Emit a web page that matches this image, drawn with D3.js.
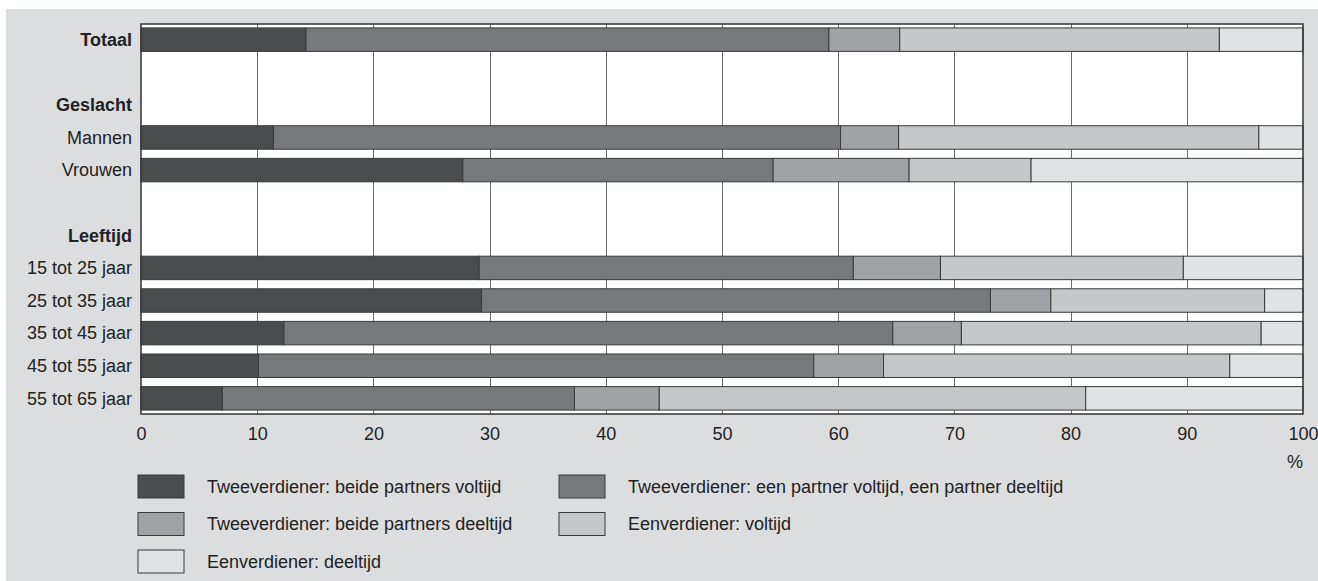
<!DOCTYPE html>
<html>
<head>
<meta charset="utf-8">
<script src="https://cdn.jsdelivr.net/npm/d3@7"></script>
<style>
  html, body { margin: 0; padding: 0; background: #ffffff; }
  svg { display: block; font-family: "Liberation Sans", Arial, sans-serif; }
</style>
</head>
<body>
<svg id="chart" width="1318" height="581"></svg>
<script>
// ---- data ----
const categories = ["Totaal", "Mannen", "Vrouwen", "15 tot 25 jaar", "25 tot 35 jaar", "35 tot 45 jaar", "45 tot 55 jaar", "55 tot 65 jaar"];
const headers = ["Geslacht", "Leeftijd"];
const rowOrder = ["Totaal", "_gap1", "Geslacht", "Mannen", "Vrouwen", "_gap2", "Leeftijd", "15 tot 25 jaar", "25 tot 35 jaar", "35 tot 45 jaar", "45 tot 55 jaar", "55 tot 65 jaar"];
const seriesNames = [
  "Tweeverdiener: beide partners voltijd",
  "Tweeverdiener: een partner voltijd, een partner deeltijd",
  "Tweeverdiener: beide partners deeltijd",
  "Eenverdiener: voltijd",
  "Eenverdiener: deeltijd"
];
const beideVoltijd   = [14.2, 11.4, 27.7, 29.1, 29.3, 12.3, 10.1, 7.0];
const eenDeeltijd    = [45.0, 48.8, 26.7, 32.2, 43.8, 52.4, 47.8, 30.3];
const beideDeeltijd  = [6.1, 5.0, 11.7, 7.5, 5.2, 5.9, 6.0, 7.3];
const eenVoltijd     = [27.5, 31.0, 10.5, 20.9, 18.4, 25.8, 29.8, 36.7];
const eenverdDeel    = [7.2, 3.8, 23.4, 10.3, 3.3, 3.6, 6.3, 18.7];
const xTicks = [0, 10, 20, 30, 40, 50, 60, 70, 80, 90, 100];
const unitLabel = "%";
const colors = ["#4b4c4e", "#77787b", "#a1a2a5", "#c6c7c9", "#e1e2e3"];

const seriesValues = [beideVoltijd, eenDeeltijd, beideDeeltijd, eenVoltijd, eenverdDeel];
const keys = seriesNames;
const table = categories.map((c, i) => {
  const o = { cat: c };
  keys.forEach((k, j) => o[k] = seriesValues[j][i]);
  return o;
});

// ---- layout ----
const svg = d3.select("#chart");
const W = 1318, H = 581;
const plot = { left: 141, right: 1303, top: 24, bottom: 414 };

svg.append("rect").attr("x", 6).attr("y", 9).attr("width", W - 6).attr("height", H - 9).attr("fill", "#dcdddf");

const x = d3.scaleLinear().domain([0, 100]).range([plot.left, plot.right]);
const y = d3.scaleBand().domain(rowOrder).range([plot.top, plot.bottom]).paddingInner(0.28).paddingOuter(0.12);

// plot background
svg.append("rect").attr("x", plot.left).attr("y", plot.top)
  .attr("width", plot.right - plot.left).attr("height", plot.bottom - plot.top)
  .attr("fill", "#ffffff");

// gridlines
svg.append("g").selectAll("line").data(xTicks.filter(t => t > 0 && t < 100)).join("line")
  .attr("x1", d => Math.round(x(d)) + 0.5).attr("x2", d => Math.round(x(d)) + 0.5)
  .attr("y1", plot.top).attr("y2", plot.bottom)
  .attr("stroke", "#6e6e6e").attr("stroke-width", 1);

// bars
const stacked = d3.stack().keys(keys)(table);
svg.append("g").selectAll("g").data(stacked).join("g")
  .attr("fill", (d, i) => colors[i])
  .selectAll("rect").data(d => d).join("rect")
  .attr("x", d => x(d[0]))
  .attr("width", d => x(d[1]) - x(d[0]))
  .attr("y", d => y(d.data.cat))
  .attr("height", y.bandwidth())
  .attr("stroke", "#3a3a3a").attr("stroke-width", 1);

// frame
svg.append("rect").attr("x", plot.left).attr("y", plot.top)
  .attr("width", plot.right - plot.left).attr("height", plot.bottom - plot.top)
  .attr("fill", "none").attr("stroke", "#333333").attr("stroke-width", 1.5);

// row labels
svg.append("g").selectAll("text").data(rowOrder.filter(r => !r.startsWith("_"))).join("text")
  .attr("x", plot.left - 9)
  .attr("y", d => y(d) + y.bandwidth() / 2)
  .attr("dy", "0.35em")
  .attr("text-anchor", "end")
  .attr("font-size", 18)
  .attr("font-weight", d => (d === "Totaal" || headers.includes(d)) ? "bold" : "normal")
  .attr("fill", "#222222")
  .text(d => d);

// x axis
const xAxis = d3.axisBottom(x).tickValues(xTicks).tickSize(0).tickPadding(0).tickFormat(d3.format("d"));
const gx = svg.append("g").attr("transform", `translate(0, 427)`).call(xAxis);
gx.select(".domain").remove();
gx.selectAll("text").attr("font-size", 18).attr("fill", "#222222")
  .attr("font-family", "Liberation Sans, Arial, sans-serif").attr("dy", "0.71em");

svg.append("text").attr("x", x(100) - 8).attr("y", 462).attr("dy", "0.35em")
  .attr("text-anchor", "middle").attr("font-size", 18).attr("fill", "#222222").text(unitLabel);

// legend
const legendCols = [138, 559];
const legendRows = [475, 512.5, 550];
const lg = svg.append("g").selectAll("g").data(seriesNames).join("g")
  .attr("transform", (d, i) => `translate(${legendCols[i % 2]}, ${legendRows[Math.floor(i / 2)]})`);
lg.append("rect").attr("width", 46).attr("height", 23)
  .attr("fill", (d, i) => colors[i]).attr("stroke", "#3a3a3a").attr("stroke-width", 1);
lg.append("text").attr("x", 69).attr("y", 11.5).attr("dy", "0.35em")
  .attr("font-size", 18).attr("fill", "#222222").text(d => d);
</script>
</body>
</html>
